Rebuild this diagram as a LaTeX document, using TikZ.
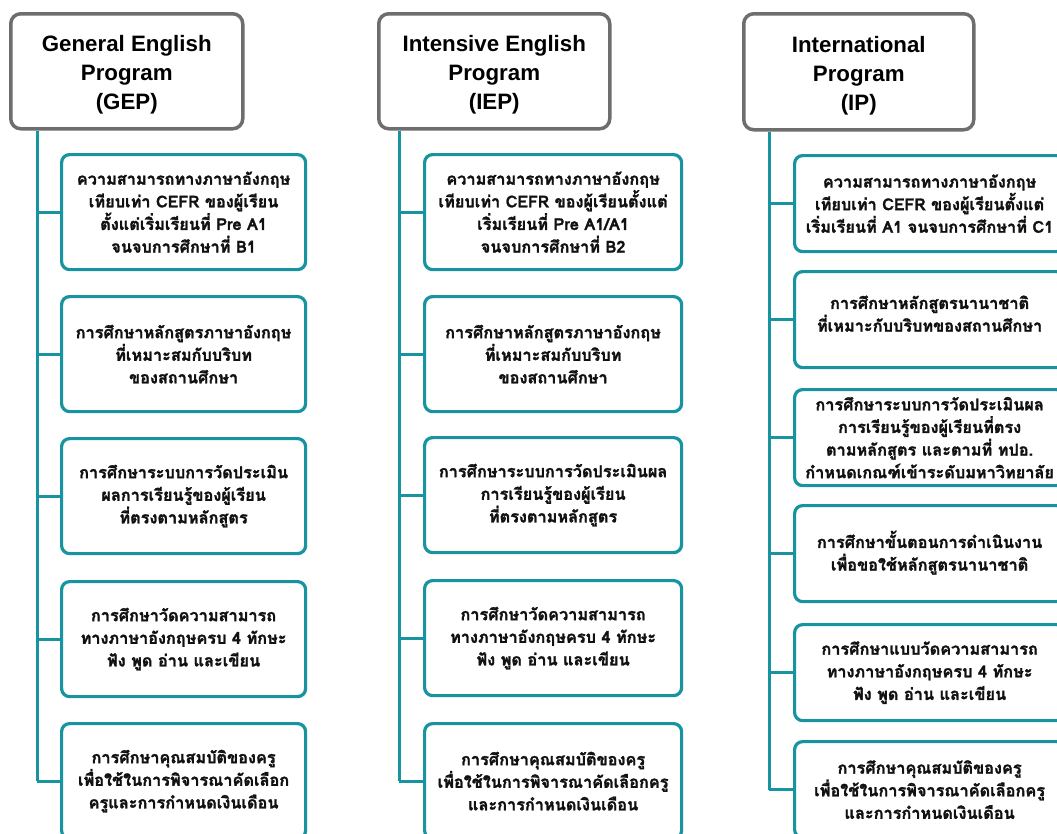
\documentclass[tikz,border=0pt]{standalone}
\usepackage{fontspec}
\newfontfamily\thaifont[Script=Thai,FakeBold=1.6]{Loma}
\newfontfamily\headfont{Liberation Sans}
\definecolor{tealline}{HTML}{17949F}
\definecolor{headgray}{HTML}{6E6E6E}
\definecolor{txt}{HTML}{111111}
\tikzset{
  headbox/.style={draw=headgray, line width=3.5pt, rounded corners=10pt, fill=white,
    minimum height=115pt, anchor=north west},
  headtext/.style={align=center, inner sep=0pt, yshift=-3.5pt,
    font=\headfont\bfseries\fontsize{22.3}{29}\selectfont, text=black},
  itembox/.style={draw=tealline, line width=3.2pt, rounded corners=8pt, fill=white,
    anchor=north west, align=center, inner sep=2pt,
    font=\thaifont\bfseries\fontsize{16.3}{22.6}\selectfont, text=txt},
  gbox/.style={itembox, minimum width=244pt, minimum height=115pt},
  ibox/.style={itembox, minimum width=257pt, minimum height=115pt},
  pbox/.style={itembox, minimum width=270pt, minimum height=96pt},
  trunk/.style={draw=tealline, line width=3pt},
}
\begin{document}
\begin{tikzpicture}[x=1pt,y=-1pt]
\useasboundingbox (0,0) rectangle (1057,833);
\clip (0,0) rectangle (1057,833);
\fill[white] (0,0) rectangle (1057,833);

% ---------- GEP ----------
\node[headbox, minimum width=232pt] (gh) at (9,12) {};
\node[headtext] (ght) at (gh.center) {General English\\Program\\(GEP)};
\coordinate (gt) at (37,127);
\node[gbox] (g1) at (60,153) {ความสามารถทางภาษาอังกฤษ\\เทียบเท่า CEFR ของผู้เรียน\\ตั้งแต่เริ่มเรียนที่ Pre A1\\จนจบการศึกษาที่ B1};
\node[gbox] (g2) at (60,295) {การศึกษาหลักสูตรภาษาอังกฤษ\\ที่เหมาะสมกับบริบท\\ของสถานศึกษา};
\node[gbox] (g3) at (60,437) {การศึกษาระบบการวัดประเมิน\\ผลการเรียนรู้ของผู้เรียน\\ที่ตรงตามหลักสูตร};
\node[gbox] (g4) at (60,580) {การศึกษาวัดความสามารถ\\ทางภาษาอังกฤษครบ 4 ทักษะ\\ฟัง พูด อ่าน และเขียน};
\node[gbox] (g5) at (60,722) {การศึกษาคุณสมบัติของครู\\เพื่อใช้ในการพิจารณาคัดเลือก\\ครูและการกำหนดเงินเดือน};
\draw[trunk] (gh.south -| gt) -- (gt |- g5.west);
\foreach \b in {g1,g2,g3,g4,g5} \draw[trunk] (gt |- \b.west) -- (\b.west);

% ---------- IEP ----------
\node[headbox, minimum width=231pt] (ih) at (377,12) {};
\node[headtext] (iht) at (ih.center) {Intensive English\\Program\\(IEP)};
\coordinate (it) at (399,127);
\node[ibox] (i1) at (423,153) {ความสามารถทางภาษาอังกฤษ\\เทียบเท่า CEFR ของผู้เรียนตั้งแต่\\เริ่มเรียนที่ Pre A1/A1\\จนจบการศึกษาที่ B2};
\node[ibox] (i2) at (423,295) {การศึกษาหลักสูตรภาษาอังกฤษ\\ที่เหมาะสมกับบริบท\\ของสถานศึกษา};
\node[ibox] (i3) at (423,436) {การศึกษาระบบการวัดประเมินผล\\การเรียนรู้ของผู้เรียน\\ที่ตรงตามหลักสูตร};
\node[ibox] (i4) at (423,579) {การศึกษาวัดความสามารถ\\ทางภาษาอังกฤษครบ 4 ทักษะ\\ฟัง พูด อ่าน และเขียน};
\node[ibox] (i5) at (423,722) {การศึกษาคุณสมบัติของครู\\เพื่อใช้ในการพิจารณาคัดเลือกครู\\และการกำหนดเงินเดือน};
\draw[trunk] (ih.south -| it) -- (it |- i5.west);
\foreach \b in {i1,i2,i3,i4,i5} \draw[trunk] (it |- \b.west) -- (\b.west);

% ---------- IP ----------
\node[headbox, minimum width=230pt, minimum height=116pt] (ph) at (742,12) {};
\node[headtext] (pht) at (ph.center) {International\\Program\\(IP)};
\coordinate (pt) at (769,128);
\node[pbox] (p1) at (793,154) {ความสามารถทางภาษาอังกฤษ\\เทียบเท่า CEFR ของผู้เรียนตั้งแต่\\เริ่มเรียนที่ A1 จนจบการศึกษาที่ C1};
\node[pbox] (p2) at (793,270) {การศึกษาหลักสูตรนานาชาติ\\ที่เหมาะกับบริบทของสถานศึกษา\\[-10.6pt]};
\node[pbox] (p3) at (793,388) {การศึกษาระบบการวัดประเมินผล\\การเรียนรู้ของผู้เรียนที่ตรง\\ตามหลักสูตร และตามที่ ทปอ.\\กำหนดเกณฑ์เข้าระดับมหาวิทยาลัย};
\node[pbox] (p4) at (793,504) {การศึกษาขั้นตอนการดำเนินงาน\\เพื่อขอใช้หลักสูตรนานาชาติ\\[-16.6pt]};
\node[pbox] (p5) at (793,623) {การศึกษาแบบวัดความสามารถ\\ทางภาษาอังกฤษครบ 4 ทักษะ\\ฟัง พูด อ่าน และเขียน};
\node[pbox] (p6) at (793,740) {การศึกษาคุณสมบัติของครู\\เพื่อใช้ในการพิจารณาคัดเลือกครู\\และการกำหนดเงินเดือน};
\draw[trunk] (ph.south -| pt) -- (pt |- p6.west);
\foreach \b in {p1,p2,p3,p4,p5,p6} \draw[trunk] (pt |- \b.west) -- (\b.west);
\end{tikzpicture}
\end{document}
